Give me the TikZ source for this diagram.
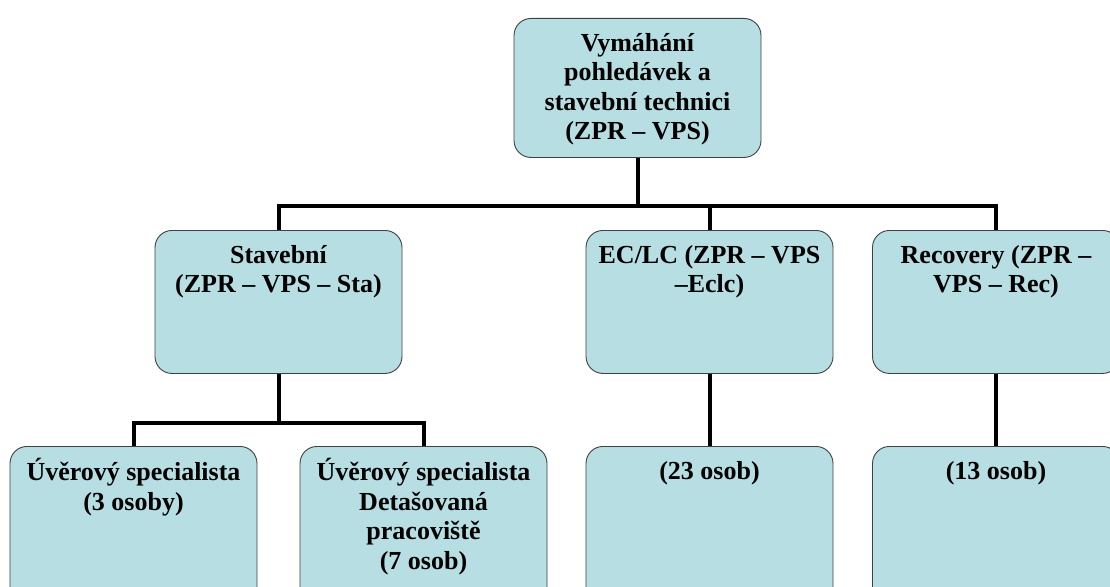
\documentclass[tikz,border=0pt]{standalone}
\usepackage{fontspec}
\setmainfont{Liberation Serif}
\definecolor{boxblue}{RGB}{183,222,226}
\newcommand{\boxlabel}[2]{\parbox[t][#1][t]{240pt}{\centering\strut #2}}

\begin{document}
\begin{tikzpicture}[x=1pt,y=-1pt,
            org node/.style={draw=black!75,line width=0.9pt,fill=boxblue,
                rounded corners=17pt,anchor=north,inner xsep=3.5pt,inner ysep=12pt,
                font=\bfseries\fontsize{26}{29.5}\selectfont},
            conn/.style={draw=black,line width=4pt}]

        \path[use as bounding box,fill=white] (0,0) rectangle (1110,586);
        \clip (0,0) rectangle (1110,586);

        % Define boxes
        \node[org node] (vps) at (637.5,18) {\boxlabel{115pt}{Vymáhání\\ pohledávek a\\ stavební technici\\ (ZPR – VPS)}};
        \node[org node] (sta) at (278.5,230) {\boxlabel{119pt}{Stavební\\ (ZPR – VPS – Sta)}};
        \node[org node] (eclc) at (709.5,230) {\boxlabel{119pt}{EC/LC (ZPR – VPS\\ –Eclc)}};
        \node[org node] (rec) at (996,230) {\boxlabel{119pt}{Recovery (ZPR –\\ VPS – Rec)}};
        \node[org node] (spec) at (133.5,446) {\boxlabel{150pt}{Úvěrový specialista\\ (3 osoby)}};
        \node[org node] (det) at (423.5,446) {\boxlabel{150pt}{Úvěrový specialista\\ Detašovaná\\ pracoviště\\ (7 osob)}};
        \node[org node] (ecos) at (709.5,446) {\boxlabel{150pt}{(23 osob)}};
        \node[org node] (recos) at (996,446) {\boxlabel{150pt}{(13 osob)}};

        % Draw connectors
        \path[conn]
            (vps.south) -- ++(0,48) -| (sta.north)
            (vps.south) -- ++(0,48) -| (eclc.north)
            (vps.south) -- ++(0,48) -| (rec.north)
            (sta.south) -- ++(0,49) -| (spec.north)
            (sta.south) -- ++(0,49) -| (det.north)
            (eclc.south) -- (ecos.north)
            (rec.south) -- (recos.north);

\end{tikzpicture}
\end{document}
